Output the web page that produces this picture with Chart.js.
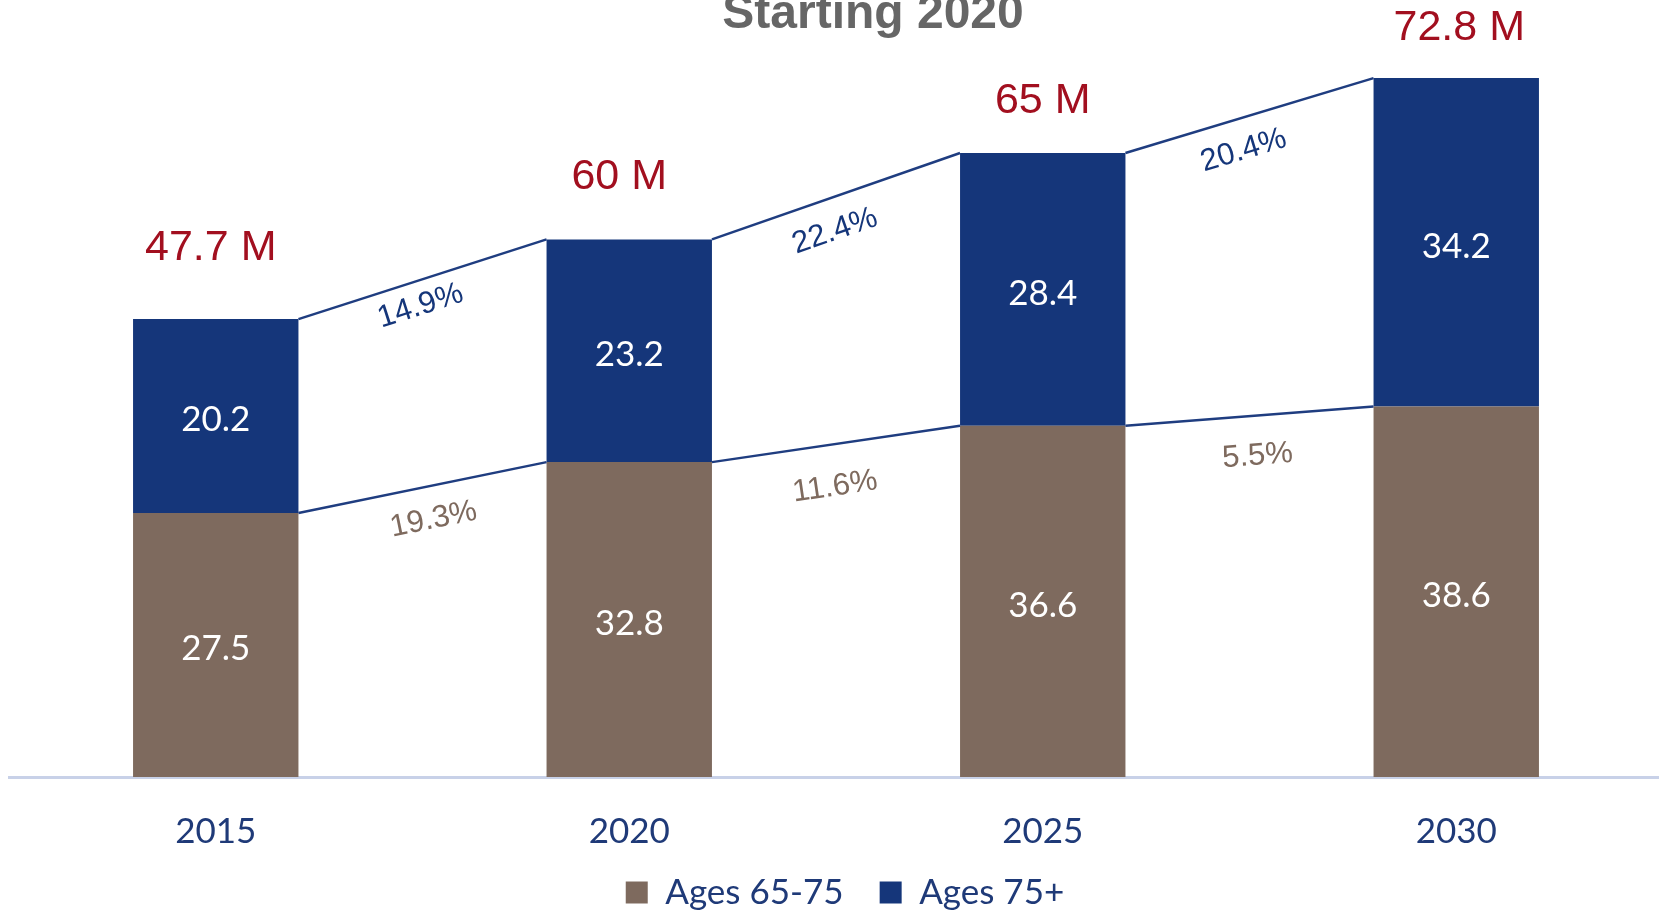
<!DOCTYPE html>
<html>
<head>
<meta charset="utf-8">
<script src="https://cdn.jsdelivr.net/npm/chart.js@4/dist/chart.umd.min.js"></script>
<style>
  body { margin: 0; background: #fff; overflow: hidden; }
  /* a few px wider than the window: the source's last bar sits right at the edge */
  #wrap { width: 1663px; height: 910px; position: relative; }
</style>
</head>
<body>
<div id="wrap"><canvas id="myChart"></canvas></div>
<script>
'use strict'

// data
const years = ['2015', '2020', '2025', '2030'];
const ages65to75 = [27.5, 32.8, 36.6, 38.6];
const ages75plus = [20.2, 23.2, 28.4, 34.2];
const totalLabels = ['47.7 M', '60 M', '65 M', '72.8 M'];
const growth75plus = ['14.9%', '22.4%', '20.4%'];
const growth65to75 = ['19.3%', '11.6%', '5.5%'];

const brown = '#7e6a5e';
const navy = '#15367a';
const tickBlue = '#1f3a78';
const red = '#a20f1f';

// label nudges (px), matched by eye
const totalDx = [-5, -10, 0, 3];
const totalDy = [71, 62, 52, 50];
const topPctDx = [-2, -1, -6];
const topPctDy = [27, 35, 35];
const lowPctDx = [11, -1, 8];
const lowPctDy = [32, 43, 40];

const overlay = {
  id: 'overlay',
  afterLayout(chart) {
    // legend sits a little right of centre in the source, and tucks up under the ticks
    const lg = chart.legend;
    lg.left += 9;
    lg.right += 9;
    lg.top -= 18;
    lg.bottom -= 18;
  },
  afterDatasetsDraw(chart) {
    const ctx = chart.ctx;
    const y = chart.scales.y;
    const low = chart.getDatasetMeta(0).data;
    const high = chart.getDatasetMeta(1).data;

    ctx.save();

    // values inside the bars
    ctx.font = '35px Lato';
    ctx.fillStyle = '#ffffff';
    ctx.textAlign = 'center';
    ctx.textBaseline = 'middle';
    low.forEach((bar, i) => {
      ctx.fillText(ages65to75[i].toFixed(1), bar.x, (bar.y + bar.base) / 2 + 4);
    });
    high.forEach((bar, i) => {
      ctx.fillText(ages75plus[i].toFixed(1), bar.x, (bar.y + bar.base) / 2 + 4);
    });

    // totals above
    ctx.font = '43px "Liberation Sans"';
    ctx.fillStyle = red;
    high.forEach((bar, i) => {
      ctx.fillText(totalLabels[i], bar.x + totalDx[i], bar.y - totalDy[i]);
    });

    // connector lines and growth labels
    ctx.strokeStyle = '#1f3d80';
    ctx.lineWidth = 2.5;
    for (let i = 0; i < years.length - 1; i++) {
      const x1 = low[i].x + low[i].width / 2;
      const x2 = low[i + 1].x - low[i + 1].width / 2;
      const rows = [
        { a: ages65to75[i] + ages75plus[i], b: ages65to75[i + 1] + ages75plus[i + 1], text: growth75plus[i], color: navy, dx: topPctDx[i], dy: topPctDy[i] },
        { a: ages65to75[i], b: ages65to75[i + 1], text: growth65to75[i], color: brown, dx: lowPctDx[i], dy: lowPctDy[i] },
      ];
      rows.forEach(r => {
        const y1 = y.getPixelForValue(r.a);
        const y2 = y.getPixelForValue(r.b);
        ctx.beginPath();
        ctx.moveTo(x1, y1);
        ctx.lineTo(x2, y2);
        ctx.stroke();

        const ang = Math.atan2(y2 - y1, x2 - x1);
        ctx.save();
        ctx.translate((x1 + x2) / 2 + r.dx, (y1 + y2) / 2 + r.dy);
        ctx.rotate(ang);
        ctx.font = '31px "Liberation Sans"';
        ctx.fillStyle = r.color;
        ctx.fillText(r.text, 0, 0);
        ctx.restore();
      });
    }

    // title, cut at the top edge like the source
    ctx.font = 'bold 48px "Liberation Sans"';
    ctx.fillStyle = '#666666';
    ctx.textBaseline = 'alphabetic';
    ctx.fillText('Starting 2020', (chart.chartArea.left + chart.chartArea.right) / 2 + 37, 28);

    ctx.restore();
  }
};

const ctx = document.getElementById('myChart').getContext('2d');
const myChart = new Chart(ctx, {
  type: 'bar',
  data: {
    labels: years,
    datasets: [
      {
        label: 'Ages 65-75',
        data: ages65to75,
        backgroundColor: brown,
        barPercentage: 0.4,
        categoryPercentage: 1,
      },
      {
        label: 'Ages 75+',
        data: ages75plus,
        backgroundColor: navy,
        barPercentage: 0.4,
        categoryPercentage: 1,
      },
    ],
  },
  options: {
    responsive: true,
    maintainAspectRatio: false,
    animation: false,
    layout: {
      padding: { left: 9, right: 0, top: 9, bottom: -28 },
    },
    scales: {
      x: {
        stacked: true,
        grid: { display: false, drawTicks: false },
        border: { display: true, color: '#c8d1e8', width: 3 },
        ticks: {
          color: tickBlue,
          font: { family: 'Lato', size: 35 },
          padding: 34,
        },
        afterFit: (scale) => { scale.height = 80; },
      },
      y: {
        stacked: true,
        display: false,
        min: 0,
        max: 80,
      },
    },
    plugins: {
      legend: {
        position: 'bottom',
        labels: {
          color: tickBlue,
          font: { family: 'Lato', size: 35 },
          boxWidth: 22,
          boxHeight: 22,
          padding: 36,
        },
      },
      tooltip: { enabled: false },
    },
  },
  plugins: [overlay],
});
</script>
</body>
</html>
